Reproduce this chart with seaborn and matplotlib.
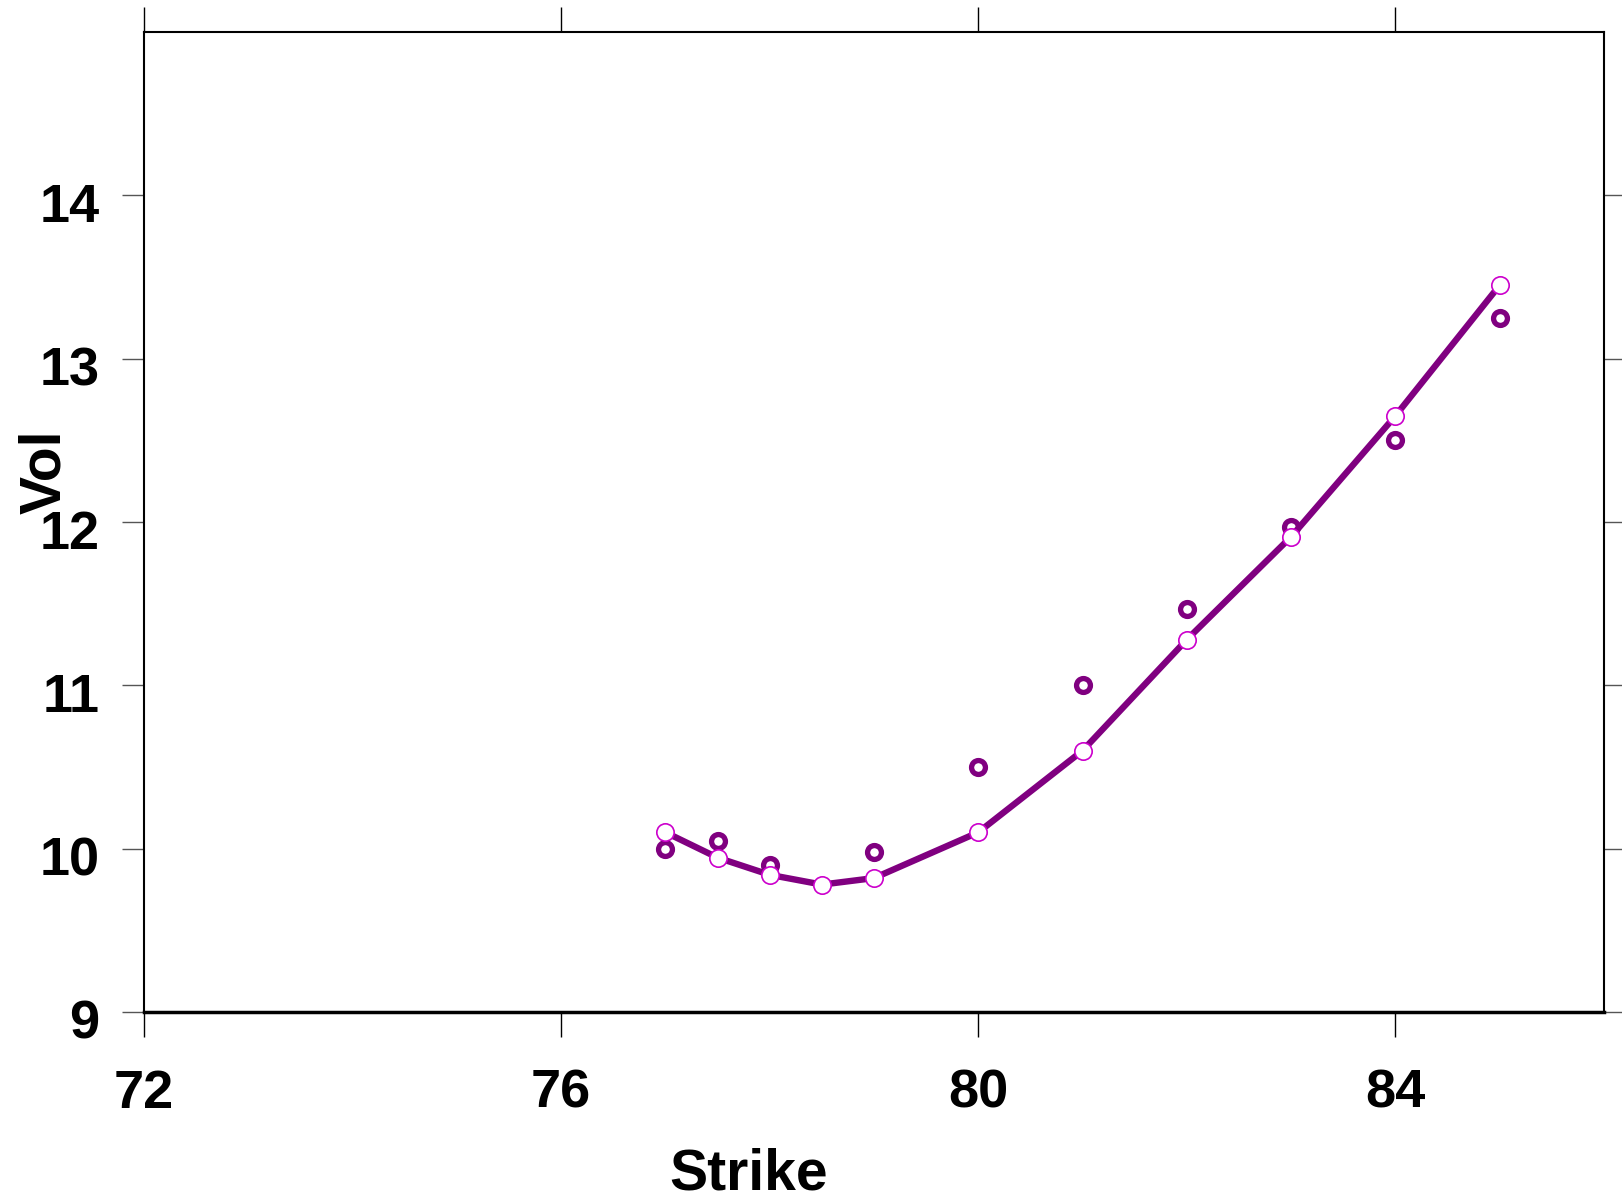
import matplotlib
matplotlib.use("Agg")
import matplotlib.pyplot as plt
import matplotlib.transforms as mtransforms
import seaborn as sns
import pandas as pd

strike_fit = [77, 77.5, 78, 78.5, 79, 80, 81, 82, 83, 84, 85]
vol_fit = [10.10, 9.945, 9.84, 9.78, 9.82, 10.10, 10.60, 11.28, 11.91, 12.65, 13.45]
strike_mkt = [77, 77.5, 78, 79, 80, 81, 82, 83, 84, 85]
vol_mkt = [10.0, 10.05, 9.90, 9.98, 10.50, 11.0, 11.47, 11.97, 12.50, 13.25]
x_ticks = [72, 76, 80, 84]
y_ticks = [9, 10, 11, 12, 13, 14]

sns.set_style("white")
plt.rcParams['font.family'] = ['Liberation Sans', 'DejaVu Sans']
plt.rcParams['text.color'] = 'black'
plt.rcParams['axes.labelcolor'] = 'black'
plt.rcParams['xtick.color'] = 'black'
plt.rcParams['ytick.color'] = 'black'

fig = plt.figure(figsize=(16.22, 12.04), dpi=100)
ax = fig.add_axes([144/1622, 1 - 1012/1204, 1460/1622, 980/1204])

df_fit = pd.DataFrame({"Strike": strike_fit, "Vol": vol_fit})
df_mkt = pd.DataFrame({"Strike": strike_mkt, "Vol": vol_mkt})

sns.scatterplot(data=df_mkt, x="Strike", y="Vol", ax=ax, marker="o",
                s=100, facecolor="white", edgecolor="#800080", linewidth=3.8, zorder=3)
sns.lineplot(data=df_fit, x="Strike", y="Vol", ax=ax, color="#800080",
             linewidth=4.6, marker="o", markersize=12.5, markerfacecolor="white",
             markeredgecolor="#CC00CC", markeredgewidth=1.2, zorder=4)

ax.set_xlim(72, 86)
ax.set_ylim(9, 15)
ax.set_xticks(x_ticks)
ax.set_yticks(y_ticks)
ax.set_xticklabels([str(v) for v in x_ticks])
ax.set_yticklabels([str(v) for v in y_ticks])

ax.tick_params(axis="x", which="both", direction="out", length=18, width=1,
               color="black", labelcolor="black", top=True, bottom=True,
               labelsize=39, pad=23)
ax.tick_params(axis="y", which="both", direction="out", length=16, width=1,
               color="#555555", labelcolor="black", left=True, right=True,
               labelsize=39, pad=16)
offset = mtransforms.ScaledTranslation(0, -0.07, fig.dpi_scale_trans)
for lab in ax.get_yticklabels():
    lab.set_fontweight("bold")
    lab.set_transform(lab.get_transform() + offset)
for lab in ax.get_xticklabels():
    lab.set_fontweight("bold")

for side in ["left", "right", "top"]:
    ax.spines[side].set_visible(True)
    ax.spines[side].set_color("black")
    ax.spines[side].set_linewidth(1.5)
ax.spines["bottom"].set_color("black")
ax.spines["bottom"].set_linewidth(2.5)

ax.set_xlabel("Strike", fontsize=41, fontweight="bold", color="black")
ax.set_ylabel("Vol", fontsize=41, fontweight="bold", color="black")
ax.xaxis.set_label_coords(0.414, -0.138)
ax.yaxis.set_label_coords(-0.049, 0.551)

fig.savefig("out.png", dpi=100)
